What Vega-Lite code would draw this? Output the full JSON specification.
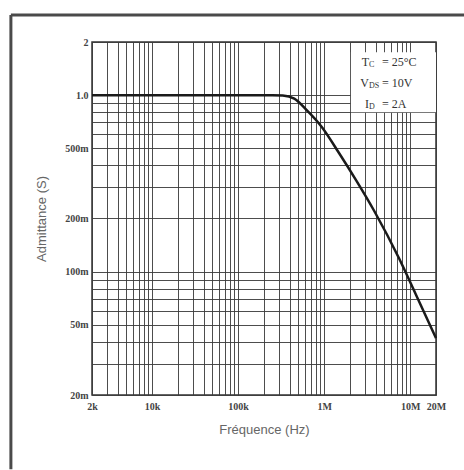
{
  "$schema": "https://vega.github.io/schema/vega-lite/v6.json",
  "width": 344,
  "height": 353,
  "autosize": {"type": "none"},
  "padding": {"left": 92, "top": 42, "right": 28, "bottom": 75},
  "background": "#ffffff",
  "config": {
    "view": {"stroke": "#333333", "strokeWidth": 1.5},
    "axis": {"domain": false, "ticks": false}
  },
  "datasets": {
    "curve": [
      {"f": 2000, "Y": 1.0},
      {"f": 10000, "Y": 1.0},
      {"f": 100000, "Y": 1.0},
      {"f": 250000, "Y": 1.0},
      {"f": 330000, "Y": 0.995},
      {"f": 450000, "Y": 0.955},
      {"f": 615000, "Y": 0.83},
      {"f": 944000, "Y": 0.658},
      {"f": 1490000, "Y": 0.47},
      {"f": 2350000, "Y": 0.33},
      {"f": 3800000, "Y": 0.222},
      {"f": 7430000, "Y": 0.119},
      {"f": 11700000, "Y": 0.074},
      {"f": 20000000, "Y": 0.042}
    ],
    "box": [{"f1": 2050000, "f2": 20000000, "y1": 0.8, "y2": 1.75}],
    "notes": [
      {"f": 3330000, "Y": 1.542, "main": "T", "sub": "C", "rest": "= 25°C"},
      {"f": 3330000, "Y": 1.173, "main": "V", "sub": "DS", "rest": "= 10V"},
      {"f": 3330000, "Y": 0.893, "main": "I", "sub": "D", "rest": "= 2A"}
    ],
    "frame": [
      {"f1": 228, "f2": 228, "y1": 0.0076, "y2": 2.84},
      {"f1": 228, "f2": 42400000, "y1": 2.84, "y2": 2.84}
    ]
  },
  "layer": [
    {
      "data": {"name": "curve"},
      "mark": {"type": "line", "color": "#1a1a1a", "strokeWidth": 2.5, "interpolate": "monotone"},
      "encoding": {
        "x": {
          "field": "f", "type": "quantitative",
          "scale": {"type": "log", "domain": [2000, 20000000], "nice": false},
          "axis": {
            "title": "Fréquence (Hz)",
            "titleFont": "Liberation Sans", "titleFontSize": 13, "titleFontWeight": "normal", "titleColor": "#666666", "titlePadding": 12,
            "labelFont": "Liberation Serif", "labelFontSize": 10, "labelFontWeight": "bold", "labelColor": "#444444", "labelPadding": 6,
            "labelOverlap": false, "labelFlush": false,
            "grid": true, "gridColor": "#3a3a3a", "gridWidth": 1, "gridOpacity": 0.9,
            "values": [2000, 3000, 4000, 5000, 6000, 7000, 8000, 9000, 10000, 20000, 30000, 40000, 50000, 60000, 70000, 80000, 90000, 100000, 200000, 300000, 400000, 500000, 600000, 700000, 800000, 900000, 1000000, 2000000, 3000000, 4000000, 5000000, 6000000, 7000000, 8000000, 9000000, 10000000, 20000000],
            "labelExpr": "datum.value == 2000 ? '2k' : datum.value == 10000 ? '10k' : datum.value == 100000 ? '100k' : datum.value == 1000000 ? '1M' : datum.value == 10000000 ? '10M' : datum.value == 20000000 ? '20M' : ''"
          }
        },
        "y": {
          "field": "Y", "type": "quantitative",
          "scale": {"type": "log", "domain": [0.02, 2], "nice": false},
          "axis": {
            "title": "Admittance (S)",
            "titleFont": "Liberation Sans", "titleFontSize": 13, "titleFontWeight": "normal", "titleColor": "#666666", "titlePadding": 16,
            "labelFont": "Liberation Serif", "labelFontSize": 10, "labelFontWeight": "bold", "labelColor": "#444444", "labelPadding": 4,
            "labelOverlap": false, "labelFlush": false,
            "grid": true, "gridColor": "#3a3a3a", "gridWidth": 1, "gridOpacity": 0.9,
            "values": [0.02, 0.03, 0.04, 0.05, 0.06, 0.07, 0.08, 0.09, 0.1, 0.2, 0.3, 0.4, 0.5, 0.6, 0.7, 0.8, 0.9, 1, 2],
            "labelExpr": "datum.value == 0.02 ? '20m' : datum.value == 0.05 ? '50m' : datum.value == 0.1 ? '100m' : datum.value == 0.2 ? '200m' : datum.value == 0.5 ? '500m' : datum.value == 1 ? '1.0' : datum.value == 2 ? '2' : ''"
          }
        }
      }
    },
    {
      "data": {"name": "box"},
      "mark": {"type": "rect", "color": "#ffffff", "opacity": 1},
      "encoding": {
        "x": {"field": "f1", "type": "quantitative"},
        "x2": {"field": "f2"},
        "y": {"field": "y1", "type": "quantitative"},
        "y2": {"field": "y2"}
      }
    },
    {
      "data": {"name": "notes"},
      "mark": {"type": "text", "align": "right", "baseline": "middle", "font": "Liberation Serif", "fontSize": 12, "color": "#333333"},
      "encoding": {
        "x": {"field": "f", "type": "quantitative"},
        "y": {"field": "Y", "type": "quantitative"},
        "text": {"field": "main"}
      }
    },
    {
      "data": {"name": "notes"},
      "mark": {"type": "text", "align": "left", "baseline": "middle", "dy": 3, "font": "Liberation Serif", "fontSize": 8, "color": "#333333"},
      "encoding": {
        "x": {"field": "f", "type": "quantitative"},
        "y": {"field": "Y", "type": "quantitative"},
        "text": {"field": "sub"}
      }
    },
    {
      "data": {"name": "notes"},
      "mark": {"type": "text", "align": "left", "baseline": "middle", "dx": 13, "font": "Liberation Serif", "fontSize": 12, "color": "#333333"},
      "encoding": {
        "x": {"field": "f", "type": "quantitative"},
        "y": {"field": "Y", "type": "quantitative"},
        "text": {"field": "rest"}
      }
    },
    {
      "data": {"name": "frame"},
      "mark": {"type": "rule", "color": "#4a4a4a", "strokeWidth": 3, "clip": false},
      "encoding": {
        "x": {"field": "f1", "type": "quantitative"},
        "x2": {"field": "f2"},
        "y": {"field": "y1", "type": "quantitative"},
        "y2": {"field": "y2"}
      }
    }
  ]
}
